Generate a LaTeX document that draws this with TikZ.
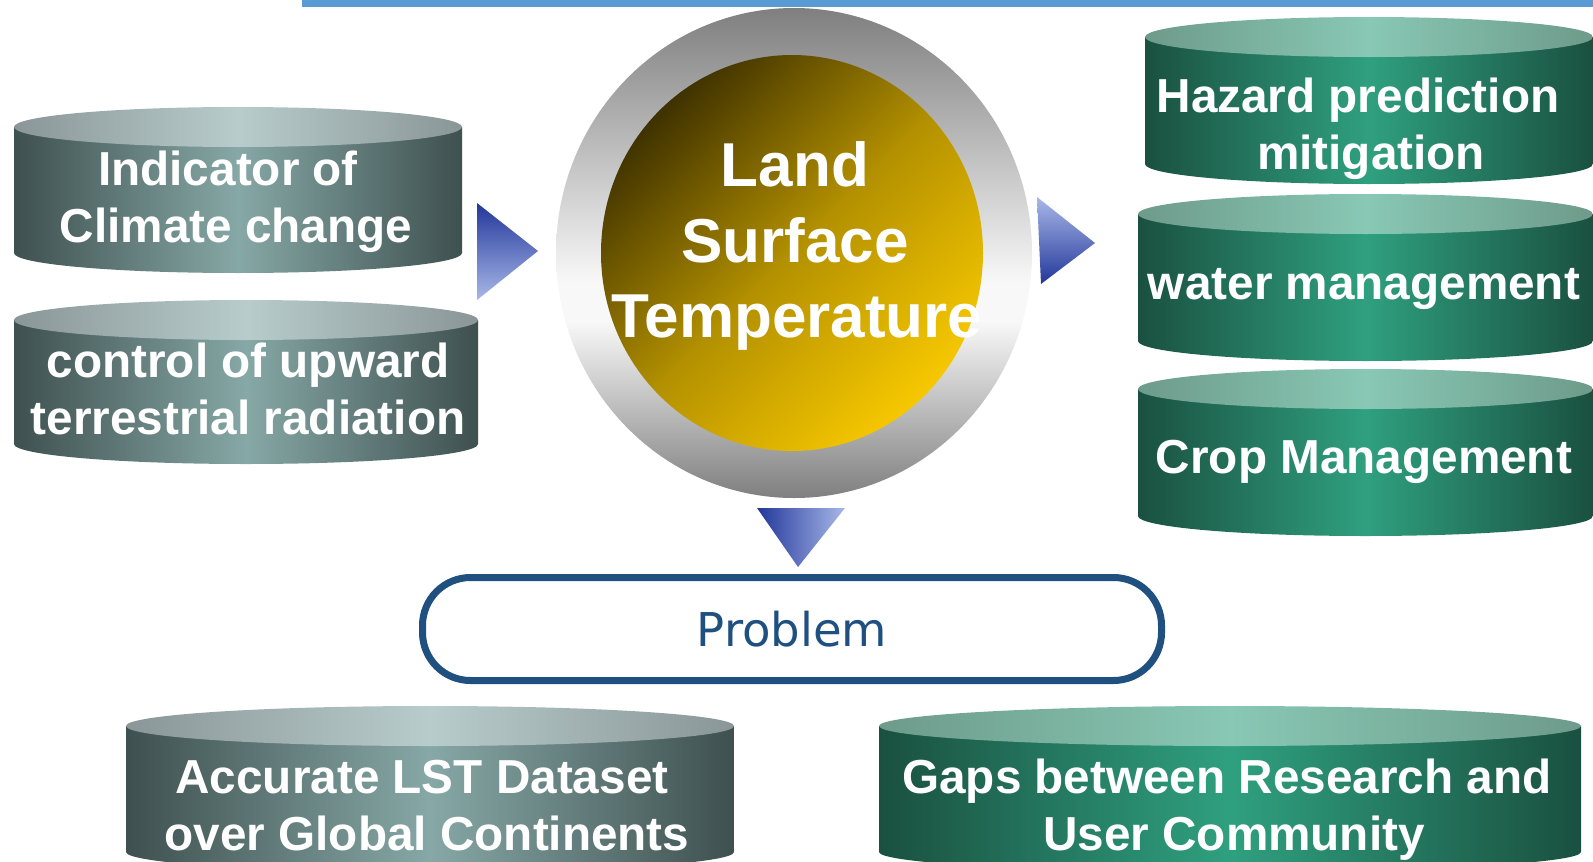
\documentclass[tikz,border=0pt]{standalone}
\usepackage{fontspec}
\setmainfont{Liberation Sans}
\newfontfamily\probfont{DejaVu Sans}
\definecolor{barblue}{HTML}{5B9BD5}
\definecolor{gsE}{HTML}{3E504F}
\definecolor{gsM}{HTML}{86A8A6}
\definecolor{gtE}{HTML}{8A9697}
\definecolor{gtM}{HTML}{B8CCCC}
\definecolor{esE}{HTML}{1A5040}
\definecolor{esM}{HTML}{2FA07F}
\definecolor{etE}{HTML}{6E9B8B}
\definecolor{etM}{HTML}{88C8B4}
\definecolor{ringG}{HTML}{7F7F7F}
\definecolor{ringW}{HTML}{F8F8F8}
\definecolor{inD}{HTML}{3F3200}
\definecolor{inM}{HTML}{B39000}
\definecolor{inY}{HTML}{F7C800}
\definecolor{arD}{HTML}{23379A}
\definecolor{arL}{HTML}{A8B8E8}
\definecolor{probblue}{HTML}{1F5080}
\pgfdeclareverticalshading{ringsh}{100bp}{color(0bp)=(ringG); color(25bp)=(ringG); color(43bp)=(ringW); color(47bp)=(ringW); color(75bp)=(ringG); color(100bp)=(ringG)}
\newcommand\mycyl[6]{%
  \pgfmathsetmacro\cxx{(#1+#2)/2}\pgfmathsetmacro\rxx{(#2-#1)/2}%
  \shade[left color=#5E,right color=#5E,middle color=#5M] (#1,#3) -- (#1,#4) arc[start angle=180,end angle=0,x radius=\rxx,y radius=20] -- (#2,#3) -- cycle;
  \shade[left color=#6E,right color=#6E,middle color=#6M] (\cxx,#3) ellipse[x radius=\rxx,y radius=20];
}
\begin{document}
\begin{tikzpicture}[x=1pt,y=-1pt,
  lbl/.style={text=white,font=\bfseries\fontsize{47.7}{57}\selectfont,inner sep=0pt,anchor=base},
  lst/.style={text=white,font=\bfseries\fontsize{62}{76}\selectfont,inner sep=0pt,anchor=base},
  probbox/.style={draw=probblue,line width=7pt,rounded corners=48pt,minimum width=739pt,minimum height=103pt,text=probblue,font=\probfont\fontsize{46.6}{56}\selectfont,inner sep=0pt}]
\useasboundingbox (0,0) rectangle (1593,862);
\clip (0,0) rectangle (1593,862);
% top bar
\fill[barblue] (302,0) rectangle (1593,6.5);
% left cylinders
\mycyl{14}{462}{127}{253}{gs}{gt}
\mycyl{14}{478}{320}{444}{gs}{gt}
% right cylinders
\mycyl{1145}{1593}{37}{164}{es}{et}
\mycyl{1138}{1593}{214}{341}{es}{et}
\mycyl{1138}{1593}{389}{516}{es}{et}
% bottom cylinders
\mycyl{126}{734}{726}{852}{gs}{gt}
\mycyl{879}{1581}{726}{852}{es}{et}
% central circle
\shade[shading=ringsh] (794,253) ellipse[x radius=238,y radius=245];
\shade[top color=inD,bottom color=inY,middle color=inM,shading angle=45] (792,253) ellipse[x radius=191,y radius=198];
% block arrows
\shade[top color=arD,bottom color=arL] (477,203) -- (538,251) -- (477,300) -- cycle;
\shade[top color=arL,bottom color=arD] (1037,197) -- (1095,243) -- (1041,284) -- cycle;
\shade[left color=arD,right color=arL] (757,508) -- (845,508) -- (798,567) -- cycle;
% problem box
\node[probbox] (prob) at (792,629) {Problem};
% texts
\node[lbl] (ind1) at (228,185) {Indicator of};
\node[lbl] (ind2) at (236,242) {Climate change};
\node[lbl] (ctl1) at (248,377) {control of upward};
\node[lbl] (ctl2) at (248,434) {terrestrial radiation};
\node[lst] (lst1) at (795,186) {Land};
\node[lst] (lst2) at (795,262) {Surface};
\node[lst] (lst3) at (797,337) {Temperature};
\node[lbl] (haz1) at (1358,112) {Hazard prediction};
\node[lbl] (haz2) at (1371,169) {mitigation};
\node[lbl] (wat) at (1364,299) {water management};
\node[lbl] (crop) at (1364,473) {Crop Management};
\node[lbl] (acc1) at (422,793) {Accurate LST Dataset};
\node[lbl] (acc2) at (427,850) {over Global Continents};
\node[lbl] (gap1) at (1227,793) {Gaps between Research and};
\node[lbl] (gap2) at (1234,850) {User Community};
\end{tikzpicture}
\end{document}
